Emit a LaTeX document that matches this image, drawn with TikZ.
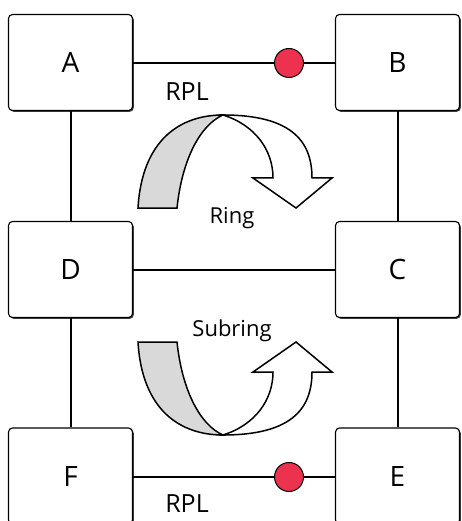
\documentclass[tikz,border=0pt]{standalone}
\usepackage{fontspec}
\setmainfont{Open Sans}
\usetikzlibrary{shadows}
\definecolor{dotred}{RGB}{236,50,78}
\definecolor{ribbon}{RGB}{217,217,217}
\begin{document}
\begin{tikzpicture}[x=1pt,y=-1pt,
  box/.style={draw, line width=1.1pt, rounded corners=4pt, fill=white,
    minimum width=124pt, minimum height=96pt, inner sep=0pt,
    font=\fontsize{28}{28}\selectfont,
    drop shadow={shadow xshift=1.3pt, shadow yshift=-1.3pt, fill=black!75, opacity=1}},
  link/.style={line width=2pt},
  dot/.style={circle, draw, line width=1pt, fill=dotred, minimum size=29pt, inner sep=0pt},
  lbl/.style={font=\fontsize{25}{25}\selectfont, inner sep=0pt},
  sublbl/.style={font=\fontsize{22}{22}\selectfont, inner sep=0pt},
  arr/.style={line width=1.5pt, line join=miter},
]
\useasboundingbox (0,0) rectangle (461,521);
\clip (0,0) rectangle (461,521);

% boxes
\node[box] (A) at (70.5,62.5) {A};
\node[box] (B) at (397.5,62.5) {B};
\node[box] (D) at (70.5,269.5) {D};
\node[box] (C) at (397.5,269.5) {C};
\node[box] (F) at (70.5,476) {F};
\node[box] (E) at (397.5,476) {E};

% red markers
\node[dot] (dAB) at (289,63) {};
\node[dot] (dFE) at (289,477) {};

% connectors
\draw[link] (A.east |- dAB) -- (dAB) -- (B.west |- dAB);
\draw[link] (F.east |- dFE) -- (dFE) -- (E.west |- dFE);
\draw[link] (D) -- (C);
\draw[link] (A.south) -- (D.north);
\draw[link] (D.south) -- (F.north);
\draw[link] (B.south) -- (C.north);
\draw[link] (C.south) -- (E.north);

% labels
\node[lbl] (rpl1) at (187,92) {RPL};
\node[lbl] (rpl2) at (187,504) {RPL};
\node[sublbl] (ring) at (232,218) {Ring};
\node[sublbl] (subring) at (232,331) {Subring};

% top ring arrow
\draw[arr, fill=ribbon] (138,208) .. controls (142,140) and (180,115) .. (223,115)
  .. controls (200,125) and (182,160) .. (177,208) -- cycle;
\draw[arr, fill=white] (223,115) .. controls (290,115) and (312,140) .. (312,178)
  -- (332,178) -- (296,208) -- (253,178) -- (273,178)
  .. controls (273,150) and (255,125) .. (223,115) -- cycle;

% bottom subring arrow
\draw[arr, fill=ribbon] (138,342) .. controls (142,410) and (180,435) .. (223,435)
  .. controls (200,425) and (182,390) .. (177,342) -- cycle;
\draw[arr, fill=white] (223,435) .. controls (290,435) and (312,410) .. (312,372)
  -- (332,372) -- (296,342) -- (253,372) -- (273,372)
  .. controls (273,400) and (255,425) .. (223,435) -- cycle;
\end{tikzpicture}
\end{document}
